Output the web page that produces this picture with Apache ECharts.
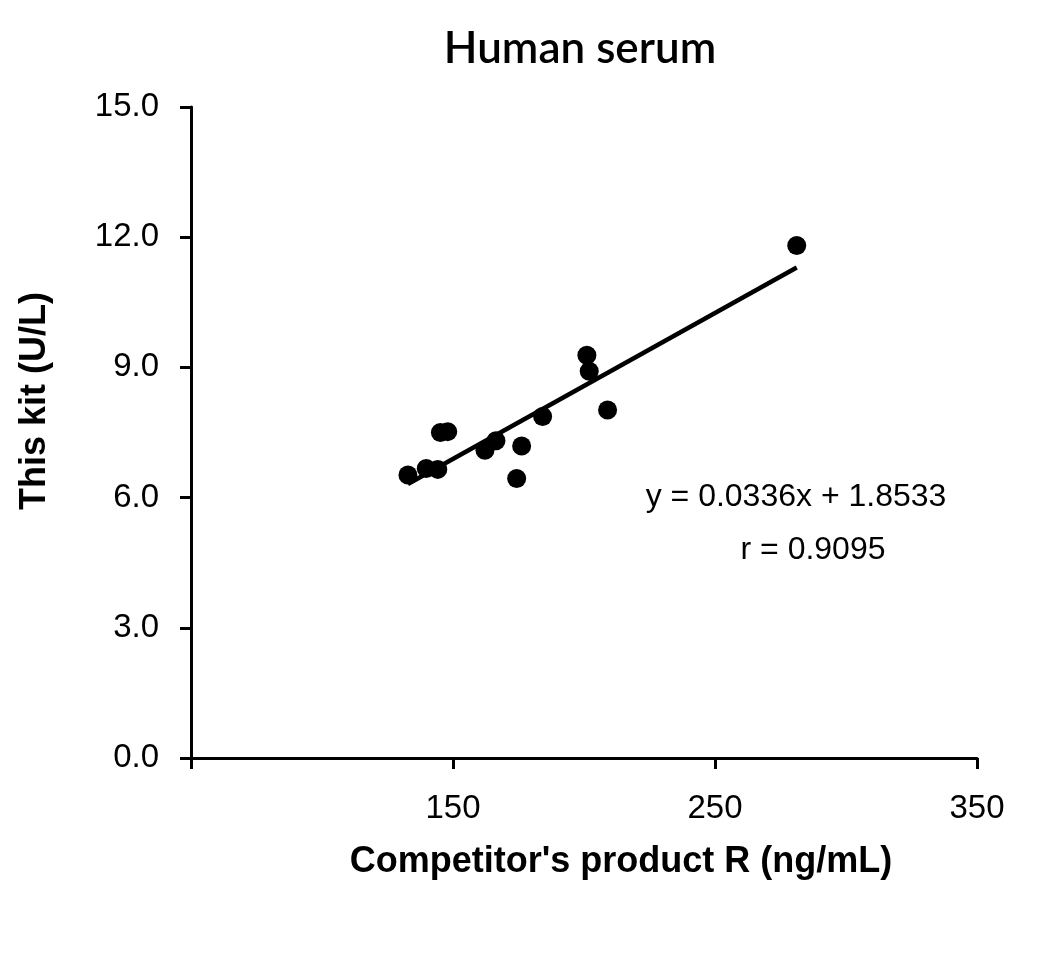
<!DOCTYPE html>
<html>
<head>
<meta charset="utf-8">
<script src="https://cdn.jsdelivr.net/npm/echarts@6/dist/echarts.min.js"></script>
<style>
  html, body { margin: 0; padding: 0; background: #fff; }
  #main { width: 1050px; height: 970px; }
</style>
</head>
<body>
<div id="main"></div>
<script>
// competitor's product R (ng/mL)
var xValues = [132.8, 139.8, 144.2, 145.2, 148.0, 162.2, 166.4, 174.3, 176.2, 184.2, 201.1, 202.0, 209.0, 281.2];
// this kit (U/L)
var yValues = [6.52, 6.67, 6.65, 7.50, 7.52, 7.09, 7.31, 6.44, 7.19, 7.87, 9.28, 8.91, 8.02, 11.81];
var slope = 0.0336;
var intercept = 1.8533;
var eqText = 'y = 0.0336x + 1.8533';
var rText = 'r = 0.9095';
var xTicks = [50, 150, 250, 350];
var yTicks = [0, 3, 6, 9, 12, 15];

var points = xValues.map(function (x, i) { return [x, yValues[i]]; });
var xMin = Math.min.apply(null, xValues);
var xMax = Math.max.apply(null, xValues);
var fitLine = [[xMin, slope * xMin + intercept], [xMax, slope * xMax + intercept]];

var myChart = echarts.init(document.getElementById('main'));
myChart.setOption({
    backgroundColor: '#fff',
    animation: false,
    textStyle: { fontFamily: 'Liberation Sans, Arial, sans-serif' },
    grid: { left: 191, top: 107, width: 786, height: 651 },
    xAxis: {
        type: 'value',
        min: xTicks[0],
        max: xTicks[xTicks.length - 1],
        interval: 100,
        splitLine: { show: false },
        axisLine: { onZero: false, lineStyle: { color: '#000', width: 3 } },
        axisTick: { length: 11, lineStyle: { color: '#000', width: 3 } },
        axisLabel: {
            color: '#000', fontSize: 33, margin: 34,
            formatter: function (v) { return v === xTicks[0] ? '' : String(v); }
        }
    },
    yAxis: {
        type: 'value',
        min: yTicks[0],
        max: yTicks[yTicks.length - 1],
        interval: 3,
        splitLine: { show: false },
        axisLine: { onZero: false, lineStyle: { color: '#000', width: 3 } },
        axisTick: { length: 11, lineStyle: { color: '#000', width: 3 } },
        axisLabel: {
            color: '#000', fontSize: 33, margin: 32,
            formatter: function (v) { return v.toFixed(1); }
        }
    },
    graphic: [
        {
            type: 'text', x: 580, y: 49,
            style: { text: 'Human serum', font: '600 44px Lato, sans-serif', fill: '#000',
                     textAlign: 'center', textVerticalAlign: 'middle' }
        },
        {
            type: 'text', x: 621, y: 862,
            style: { text: "Competitor's product R (ng/mL)", font: 'bold 36px Liberation Sans, Arial', fill: '#000',
                     textAlign: 'center', textVerticalAlign: 'middle' }
        },
        {
            type: 'text', x: 35, y: 401, rotation: Math.PI / 2,
            style: { text: 'This kit (U/L)', font: 'bold 36px Liberation Sans, Arial', fill: '#000',
                     textAlign: 'center', textVerticalAlign: 'middle' }
        },
        {
            type: 'text', x: 796, y: 497,
            style: { text: eqText, font: '32px Liberation Sans, Arial', fill: '#000',
                     textAlign: 'center', textVerticalAlign: 'middle' }
        },
        {
            type: 'text', x: 813, y: 550,
            style: { text: rText, font: '32px Liberation Sans, Arial', fill: '#000',
                     textAlign: 'center', textVerticalAlign: 'middle' }
        }
    ],
    series: [
        {
            type: 'line',
            data: fitLine,
            symbol: 'none',
            lineStyle: { color: '#000', width: 4.5 },
            z: 2
        },
        {
            type: 'scatter',
            data: points,
            symbol: 'circle',
            symbolSize: 19,
            itemStyle: { color: '#000', opacity: 1 },
            z: 3
        }
    ]
});
</script>
</body>
</html>
